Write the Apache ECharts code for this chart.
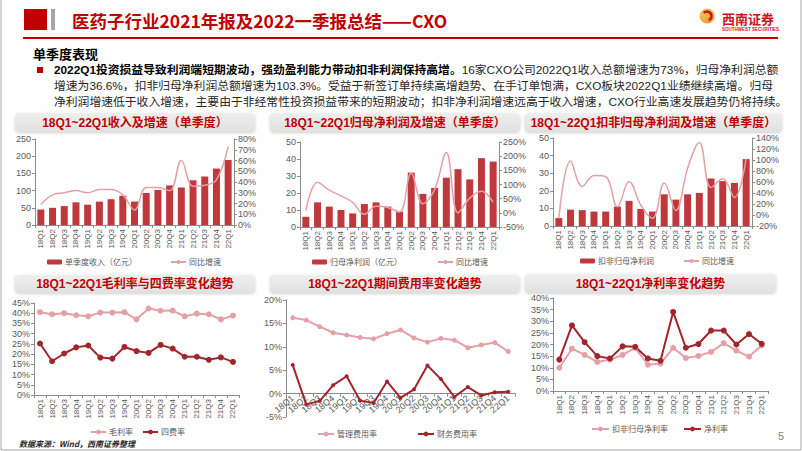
<!DOCTYPE html>
<html><head><meta charset="utf-8">
<script src="https://cdn.jsdelivr.net/npm/echarts@6/dist/echarts.min.js"></script>
<style>html,body{margin:0;padding:0;background:#fff}#c{width:802px;height:451px}</style>
</head><body><div id="c"></div>
<script>
// ---- data ----
const categories = ['18Q1','18Q2','18Q3','18Q4','19Q1','19Q2','19Q3','19Q4','20Q1','20Q2','20Q3','20Q4','21Q1','21Q2','21Q3','21Q4','22Q1'];
const revenue = [45, 50, 55, 66, 59, 68, 75, 85, 68, 93, 102, 115, 109, 130, 141, 164, 189];
const revenueGrowth = [19, 28, 30, 32, 30, 33, 33, 28, 14, 35, 35, 32, 60, 36, 37, 42, 73];
const netProfit = [6, 14.5, 12, 10, 8, 13.5, 14.5, 12, 9, 32, 19.5, 23, 29, 34, 28, 40.5, 38.5];
const netProfitGrowth = [8, 108, 80, 60, 37, -5, 23, 19, 3, 140, 32, 82, 213, 0, 52, 76, 37];
const deductedProfit = [4.5, 9.3, 9, 8.2, 8.2, 11, 14.3, 9.7, 8.2, 18, 15, 18, 18.8, 27, 25.5, 24.5, 38];
const deductedGrowth = [-6, 98, 52, 72, 70, 15, 61, 18, -6, 58, 8, 85, 132, 50, 66, 32, 103];
const grossMargin = [40.5, 39.5, 40, 39, 38.5, 40.3, 40.3, 40.5, 37, 42.3, 41.2, 41.3, 38.5, 39.8, 39.5, 37, 38.8];
const expenseRate = [25.2, 16.5, 20.3, 23.3, 24.2, 18.3, 17.8, 23.5, 21.5, 20.6, 24.5, 22.7, 18.7, 18.7, 17.2, 18.4, 16.2];
const mgmtRate = [16.2, 15.7, 14.3, 13, 12.5, 12, 11.7, 12.8, 13.6, 11.9, 11, 11.8, 11.4, 9.8, 10.4, 10.9, 9.0];
const finRate = [6.1, -2.3, -1.6, 1.8, 3.7, -1.5, -2.0, 2.6, -0.9, 0.9, 6.0, 3.1, -0.7, 1.4, -0.4, 0.3, 0.4];
const deductedNetMargin = [10, 18.2, 15.5, 12.5, 13.5, 15.5, 18.5, 11.3, 11.8, 18.6, 14.2, 15.1, 16.8, 20.6, 17.4, 14.8, 19.6];
const netMargin = [13.5, 28.2, 21, 15, 14, 19.2, 19, 14, 13, 34, 18.6, 20.2, 26, 26, 20, 24.5, 20.3];

const pageTitle = '医药子行业2021年报及2022一季报总结——CXO';
const sectionTitle = '单季度表现';
const bodyBold = '2022Q1投资损益导致利润端短期波动，强劲盈利能力带动扣非利润保持高增。';
const bodyLines = [
  '16家CXO公司2022Q1收入总额增速为73%，归母净利润总额',
  '增速为36.6%，扣非归母净利润总额增速为103.3%。受益于新签订单持续高增趋势、在手订单饱满，CXO板块2022Q1业绩继续高增。归母',
  '净利润增速低于收入增速，主要由于非经常性投资损益带来的短期波动；扣非净利润增速远高于收入增速，CXO行业高速发展趋势仍将持续。'
];
const chartTitles = ['18Q1~22Q1收入及增速（单季度）','18Q1~22Q1归母净利润及增速（单季度）','18Q1~22Q1扣非归母净利润及增速（单季度）',
  '18Q1~22Q1毛利率与四费率变化趋势','18Q1~22Q1期间费用率变化趋势','18Q1~22Q1净利率变化趋势'];
const sourceText = '数据来源：Wind，西南证券整理';

// ---- styles ----
const RED = '#C00000';
const BAR = '#BF393C';
const PINK = '#E3A0A6';
const DARK = '#A1252A';
const AX = '#8C8C8C';
const LBL = '#595959';
const FONT = "'Liberation Sans','Noto Sans CJK SC',sans-serif";
const CJK = "'Noto Sans CJK SC',sans-serif";

function catAxis(g, rot, fs, margin) {
  return {
    type: 'category', gridIndex: g, data: categories, boundaryGap: true,
    axisLine: {lineStyle: {color: AX}}, axisTick: {show: true, length: 3, lineStyle: {color: AX}},
    axisLabel: {rotate: rot, fontSize: fs, color: LBL, margin: margin == null ? 4 : margin, fontFamily: FONT, interval: 0}
  };
}
function valAxis(g, min, max, iv, pct, pos) {
  return {
    type: 'value', gridIndex: g, min: min, max: max, interval: iv, position: pos || 'left',
    axisLine: {show: true, lineStyle: {color: AX}}, axisTick: {show: true, length: 3, lineStyle: {color: AX}},
    splitLine: {show: false},
    axisLabel: {fontSize: 9, color: LBL, margin: 4, fontFamily: FONT, formatter: pct ? '{value}%' : '{value}'}
  };
}
function legendItem(name, x, y, iw, ih) {
  return {left: x, top: y, data: [name], itemWidth: iw, itemHeight: ih, padding: 0, selectedMode: false,
    textStyle: {fontSize: 8, color: LBL, fontFamily: CJK, padding: [0, 0, 0, -2]}};
}
const boxes = [[15,113,240,19],[270,113,250,19],[525,113,257,19],[15,275,240,18],[270,275,250,18],[525,274,251,19]];
const graphics = [];
// slide frame
graphics.push({type:'polyline', shape:{points:[[1,0],[1,450],[801,450],[801,0]]}, style:{stroke:'#A6A6A6', lineWidth:1, fill:null}, silent:true});
// header
graphics.push({type:'rect', shape:{x:24,y:9,width:23,height:21}, style:{fill:RED}});
graphics.push({type:'rect', shape:{x:51,y:9,width:4,height:21}, style:{fill:'#A6A6A6'}});
graphics.push({type:'text', x:72, y:20, style:{text:pageTitle, fill:RED, font:"bold 17.5px 'Noto Sans CJK SC'", verticalAlign:'middle'}});
graphics.push({type:'line', shape:{x1:23,y1:38,x2:778,y2:38}, style:{stroke:RED, lineWidth:2}});
// logo
graphics.push({type:'circle', shape:{cx:707,cy:16,r:7.5}, style:{fill:new echarts.graphic.LinearGradient(0,0,1,1,[{offset:0,color:'#F9D35A'},{offset:1,color:'#E98A2A'}])}});
graphics.push({type:'arc', shape:{cx:707,cy:16,r:4.5,startAngle:-2.4,endAngle:1.2}, style:{stroke:'#C8161D', lineWidth:2.5, fill:null}});
graphics.push({type:'text', x:722, y:18, style:{text:'西南证券', fill:'#C8161D', font:"bold 13px 'Noto Sans CJK SC'", verticalAlign:'middle'}});
graphics.push({type:'text', x:722, y:29.5, style:{text:'SOUTHWEST SECURITIES', fill:'#C8161D', font:"bold 4.5px 'Liberation Sans'", verticalAlign:'middle'}});
// section
graphics.push({type:'text', x:33, y:53, style:{text:sectionTitle, fill:'#000', font:"bold 13px 'Noto Sans CJK SC'", verticalAlign:'middle'}});
graphics.push({type:'rect', shape:{x:37,y:67,width:6,height:6}, style:{fill:RED}});
graphics.push({type:'text', x:54, y:70, style:{text:'{b|'+bodyBold+'}{n|'+bodyLines[0]+'}', verticalAlign:'middle',
  rich:{b:{fontWeight:'bold', fontSize:11.8, fill:'#000', fontFamily:FONT}, n:{fontSize:11.8, fill:'#262626', fontFamily:FONT}}}});
graphics.push({type:'text', x:54, y:86, style:{text:bodyLines[1], fill:'#262626', font:"11.8px 'Liberation Sans','Noto Sans CJK SC'", verticalAlign:'middle'}});
graphics.push({type:'text', x:54, y:102, style:{text:bodyLines[2], fill:'#262626', font:"11.8px 'Liberation Sans','Noto Sans CJK SC'", verticalAlign:'middle'}});
// chart title boxes
boxes.forEach((b, i) => {
  graphics.push({type:'rect', shape:{x:b[0],y:b[1],width:b[2],height:b[3],r:4},
    style:{fill:new echarts.graphic.LinearGradient(0,0,0,1,[{offset:0,color:'#EFEFEF'},{offset:1,color:'#E0E0E0'}]), shadowBlur:3, shadowColor:'rgba(0,0,0,0.18)', shadowOffsetY:1}});
  graphics.push({type:'text', x:b[0]+b[2]/2, y:b[1]+b[3]/2, style:{text:chartTitles[i], fill:RED, font:"bold 12px 'Liberation Sans','Noto Sans CJK SC'", align:'center', verticalAlign:'middle'}});
});
graphics.push({type:'text', x:19, y:443, style:{text:sourceText, fill:'#262626', font:"italic bold 8px 'Noto Sans CJK SC'", verticalAlign:'middle'}});
graphics.push({type:'text', x:778, y:436, style:{text:'5', fill:'#7F7F7F', font:"11px 'Liberation Sans'", verticalAlign:'middle'}});

const lineOpts = (color, smooth, sym, ss, w) => ({
  smooth: smooth, symbol: sym ? 'circle' : 'none', symbolSize: ss || 6, showSymbol: !!sym,
  itemStyle: {color: color}, lineStyle: {color: color, width: w || 2}
});

const option = {
  animation: false,
  backgroundColor: '#fff',
  textStyle: {fontFamily: FONT},
  grid: [
    {left: 35, top: 139, width: 199, height: 86},
    {left: 300, top: 142, width: 199, height: 85},
    {left: 553, top: 138, width: 199, height: 88},
    {left: 34, top: 303, width: 205, height: 92},
    {left: 286, top: 300, width: 229, height: 117},
    {left: 553, top: 298, width: 215, height: 93}
  ],
  xAxis: [
    catAxis(0, 90, 8), catAxis(1, 90, 8), catAxis(2, 90, 8),
    catAxis(3, 90, 8), catAxis(4, 40, 9, -20), catAxis(5, 90, 8)
  ],
  yAxis: [
    valAxis(0, 0, 250, 50, false), valAxis(0, 0, 80, 10, true, 'right'),
    valAxis(1, 0, 50, 10, false), valAxis(1, -50, 250, 50, true, 'right'),
    valAxis(2, 0, 50, 10, false), valAxis(2, -20, 140, 20, true, 'right'),
    valAxis(3, 0, 45, 5, true),
    valAxis(4, -5, 20, 5, true),
    valAxis(5, 0, 40, 5, true)
  ],
  legend: [
    legendItem('单季度收入（亿元）', 47, 258, 15, 5),
    legendItem('同比增速', 170, 258, 15, 5),
    legendItem('归母净利润（亿元）', 312, 258, 15, 5),
    legendItem('同比增速 ', 437, 258, 15, 5),
    legendItem('扣非归母净利润', 580, 257, 15, 5),
    legendItem('同比增速  ', 683, 257, 15, 5),
    legendItem('毛利率', 90, 428, 15, 6),
    legendItem('四费率', 142, 428, 15, 6),
    legendItem('管理费用率', 317, 430, 16, 6),
    legendItem('财务费用率', 417, 430, 16, 6),
    legendItem('扣非归母净利率', 591, 425, 17, 6),
    legendItem('净利率', 683, 425, 17, 6)
  ],
  graphic: graphics,
  series: [
    {name: '单季度收入（亿元）', type: 'bar', xAxisIndex: 0, yAxisIndex: 0, data: revenue, barWidth: 7, itemStyle: {color: BAR}},
    Object.assign({name: '同比增速', type: 'line', xAxisIndex: 0, yAxisIndex: 1, data: revenueGrowth}, lineOpts(PINK, 0.4, false, 0, 1.5)),
    {name: '归母净利润（亿元）', type: 'bar', xAxisIndex: 1, yAxisIndex: 2, data: netProfit, barWidth: 7, itemStyle: {color: BAR}},
    Object.assign({name: '同比增速 ', type: 'line', xAxisIndex: 1, yAxisIndex: 3, data: netProfitGrowth}, lineOpts(PINK, 0.4, false, 0, 1.5)),
    {name: '扣非归母净利润', type: 'bar', xAxisIndex: 2, yAxisIndex: 4, data: deductedProfit, barWidth: 7, itemStyle: {color: BAR}},
    Object.assign({name: '同比增速  ', type: 'line', xAxisIndex: 2, yAxisIndex: 5, data: deductedGrowth}, lineOpts(PINK, 0.4, false, 0, 1.5)),
    Object.assign({name: '毛利率', type: 'line', xAxisIndex: 3, yAxisIndex: 6, data: grossMargin}, lineOpts(PINK, false, true, 6, 2)),
    Object.assign({name: '四费率', type: 'line', xAxisIndex: 3, yAxisIndex: 6, data: expenseRate}, lineOpts(DARK, false, true, 6, 2)),
    Object.assign({name: '管理费用率', type: 'line', xAxisIndex: 4, yAxisIndex: 7, data: mgmtRate}, lineOpts(PINK, false, true, 5, 2)),
    Object.assign({name: '财务费用率', type: 'line', xAxisIndex: 4, yAxisIndex: 7, data: finRate}, lineOpts(DARK, false, true, 4, 2)),
    Object.assign({name: '扣非归母净利率', type: 'line', xAxisIndex: 5, yAxisIndex: 8, data: deductedNetMargin}, lineOpts(PINK, false, true, 6, 2)),
    Object.assign({name: '净利率', type: 'line', xAxisIndex: 5, yAxisIndex: 8, data: netMargin}, lineOpts(DARK, false, true, 6, 2))
  ]
};
const chart = echarts.init(document.getElementById('c'), null, {renderer: 'svg', width: 802, height: 451});
chart.setOption(option);
</script>
</body></html>
